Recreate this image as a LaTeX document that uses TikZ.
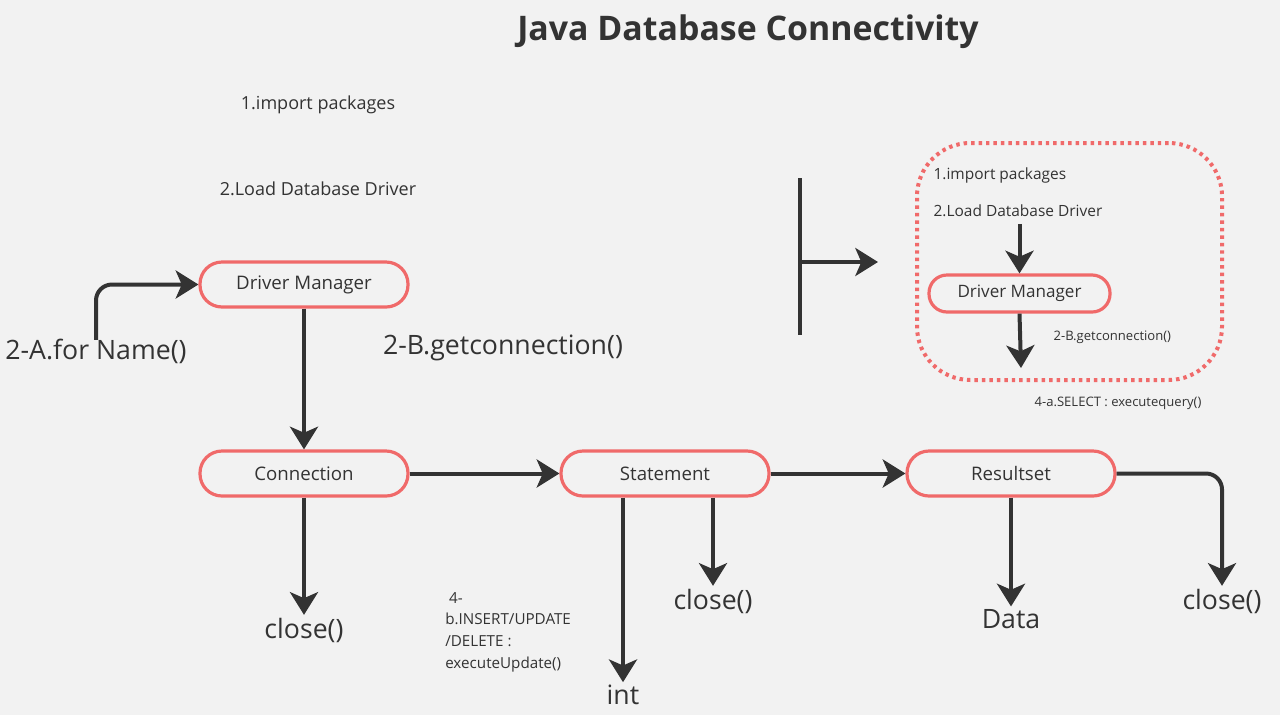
\documentclass[tikz,border=0pt]{standalone}
\usepackage{fontspec}
\setmainfont{Open Sans}
\usepackage{tikz}
\usepackage{xcolor}
\usetikzlibrary{arrows.meta,positioning}

\definecolor{ink}{HTML}{333333}
\definecolor{salmon}{HTML}{F06A6A}
\definecolor{paper}{HTML}{F2F2F2}

\begin{document}
\begin{tikzpicture}[
    x=0.75pt, y=-0.75pt,
    >=Stealth,
    flowline/.style={-{Stealth[length=17pt,width=21pt,inset=4.5pt]}, line width=3pt, draw=ink},
    bar/.style={line width=3pt, draw=ink},
    block/.style={
      draw=salmon,
      line width=2.4pt,
      fill=paper,
      rounded corners=16.5pt,
      align=center,
      minimum width=156pt,
      minimum height=33.75pt,
      inner sep=2pt,
      text=ink,
      font=\fontsize{14}{16}\selectfont
    },
    smallblock/.style={
      block,
      rounded corners=13.5pt,
      minimum width=135.75pt,
      minimum height=27.75pt,
      font=\fontsize{12.8}{15}\selectfont
    },
    biglabel/.style={text=ink, inner sep=2pt, font=\fontsize{20}{22}\selectfont},
    steplabel/.style={text=ink, inner sep=1pt, font=\fontsize{13.5}{15}\selectfont},
    tinylabel/.style={text=ink, inner sep=1pt, anchor=west, font=\fontsize{9.8}{11}\selectfont},
    group/.style={
      draw=salmon,
      line width=3pt,
      dash pattern=on 2.6pt off 3pt,
      rounded corners=40pt,
      minimum width=228.75pt,
      minimum height=177.75pt
    }
  ]
    \fill[paper] (0,0) rectangle (1280,715);
    \useasboundingbox (0,0) rectangle (1280,715);

    \node[text=ink, font=\fontsize{25.4}{28}\selectfont\bfseries] (title) at (748,32) {Java Database Connectivity};

    % left part
    \node[steplabel] (imp) at (318,105) {1.import packages};
    \node[steplabel] (load) at (318,189) {2.Load Database Driver};
    \node[block] (dm) at (304,284.5) {Driver Manager};
    \node[biglabel] (forname) at (96,351) {2-A.for Name()};
    \node[biglabel] (getconn) at (503,348) {2-B.getconnection()};

    \node[block] (conn) at (304,473.5) {Connection};
    \node[block] (stmt) at (665,473.5) {Statement};
    \node[block] (rs) at (1011,473.5) {Resultset};

    \node[biglabel] (closeconn) at (304,630) {close()};
    \node[biglabel] (int) at (623,695) {int};
    \node[biglabel] (closestmt) at (713,601) {close()};
    \node[biglabel] (data) at (1011,619) {Data};
    \node[biglabel] (closers) at (1222,601) {close()};
    \node[text=ink, anchor=north west, align=left, inner sep=0pt,
      font=\fontsize{11.4}{16.3}\selectfont] (update) at (445,592)
      {\ 4-\\b.INSERT/UPDATE\\/DELETE :\\executeUpdate()};

    \draw[flowline, rounded corners=12pt] ([yshift=-3pt]forname.north) |- (dm.west);
    \draw[flowline] (dm) -- (conn);
    \draw[flowline] (conn) -- (stmt);
    \draw[flowline] (stmt) -- (rs);
    \draw[flowline] (conn) -- (closeconn);
    \draw[flowline] (int.north |- stmt.south) -- (int.north);
    \draw[flowline] (closestmt.north |- stmt.south) -- (closestmt.north);
    \draw[flowline] (rs) -- (data);
    \draw[flowline, rounded corners=12pt] (rs.east) -| (closers.north);

    % right part
    \coordinate (teetop) at (800,178);
    \coordinate (teebot) at (800,335);
    \coordinate (teemid) at (800,262);
    \coordinate (teeend) at (878,262);
    \draw[bar] (teetop) -- (teebot);
    \draw[flowline] (teemid) -- (teeend);

    \node[group] (box) at (1069.5,261.5) {};
    \node[tinylabel, font=\fontsize{11.6}{13}\selectfont] (impin) at (932,175) {1.import packages};
    \node[tinylabel, font=\fontsize{11.6}{13}\selectfont] (loadin) at (932,211) {2.Load Database Driver};
    \node[smallblock] (dmin) at (1019.5,293.5) {Driver Manager};
    \node[tinylabel] (getconnin) at (1052,337) {2-B.getconnection()};
    \node[tinylabel] (select) at (1033,403) {4-a.SELECT : executequery()};
    \coordinate (dmout) at (1021,368);

    \draw[flowline] ([yshift=-4pt]dmin.north |- loadin.south) -- (dmin.north);
    \draw[flowline] (dmin.south) -- (dmout);
  \end{tikzpicture}
\end{document}
